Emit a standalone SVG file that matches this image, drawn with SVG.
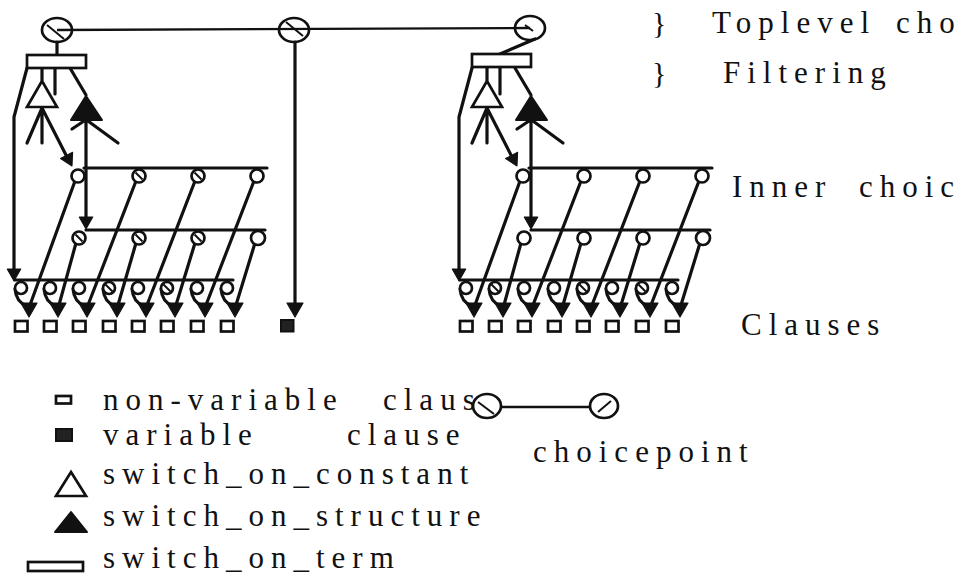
<svg xmlns="http://www.w3.org/2000/svg" xmlns:xlink="http://www.w3.org/1999/xlink" width="963" height="580" viewBox="0 0 963 580">
  <style>
    .ln { stroke: #111; stroke-width: 3.2; fill: none; stroke-linecap: round; stroke-linejoin: round; }
    .top { stroke: #111; stroke-width: 2.4; fill: none; }
    .cp { fill: #fff; stroke: #111; stroke-width: 2.7; }
    .bigcp { fill: none; stroke: #111; stroke-width: 2.7; }
    .sl { stroke: #111; stroke-width: 2; fill: none; }
    .box { fill: #fff; stroke: #111; stroke-width: 2.7; }
    .solid { fill: #111; stroke: #111; stroke-width: 2; stroke-linejoin: round; }
    .cl { fill: #fff; stroke: #111; stroke-width: 2.7; }
    .vcl { fill: #222; stroke: #111; stroke-width: 2; }
    .txt { font-family: "Liberation Serif", "Times New Roman", serif; font-size: 31px; letter-spacing: 7px; fill: #111; }
    .br { font-family: "Liberation Serif", "Times New Roman", serif; font-size: 30px; fill: #111; }
  </style>
  <defs>
    <path id="ah" d="M-8,-14 L8,-14 L0,0 Z" fill="#111" stroke="#111" stroke-width="1.2" stroke-linejoin="round"/>
    <path id="sl" d="M-3.5,-3.5 L3.5,3.5" class="sl"/>
    <path id="bigsl" d="M-9,-7 L8,7" class="sl"/>
  </defs>

  <rect width="963" height="580" fill="#fff"/>

  <!-- connectors -->
  <g id="connectors">
    <!-- toplevel choicepoint chain -->
    <path class="top" d="M57,30 L530,28"/>
    <path class="ln" d="M57,42 V55"/>
    <path class="ln" d="M535,39 L500,54"/>
    <!-- variable clause branch -->
    <path class="ln" d="M295,42 V306"/>
    <use href="#ah" x="295" y="317"/>

    <!-- left index tree -->
    <g id="links-left">
      <path class="ln" d="M55,68 V94"/>
      <path class="ln" d="M42,68 V80"/>
      <path class="ln" d="M70,68 L86,95"/>
      <path class="ln" d="M27,68 L14,117 V270"/>
      <use href="#ah" transform="translate(14,281) scale(0.85)"/>
      <path class="ln" d="M42,108 L27,143 M42,108 V143 M42,108 L67,157"/>
      <use href="#ah" transform="translate(72,166) rotate(-27) scale(0.85)"/>
      <path class="ln" d="M86,120 V219 M84,121 L72,129 M88,121 L118,143"/>
      <use href="#ah" transform="translate(86,229) scale(0.85)"/>
      <path class="ln" d="M84,168 H267 M86,230 H265 M15,280 H233"/>
      <path class="ln" d="M75,181 L30,305 M76,243 L59,305 M136,181 L88,305 M136,243 L118,305 M195,181 L147,305 M195,243 L176,305 M254,181 L206,305 M255,243 L236,305"/>
      <path class="ln" d="M15,289 Q16,302 27,306 M44,289 Q45,302 56,306 M73,289 Q74,302 85,306 M103,289 Q104,302 115,306 M132,289 Q133,302 144,306 M161,289 Q162,302 173,306 M191,289 Q192,302 203,306 M221,289 Q222,302 233,306"/>
      <use href="#ah" x="29" y="317"/><use href="#ah" x="58" y="317"/><use href="#ah" x="87" y="317"/><use href="#ah" x="117" y="317"/>
      <use href="#ah" x="146" y="317"/><use href="#ah" x="175" y="317"/><use href="#ah" x="205" y="317"/><use href="#ah" x="235" y="317"/>
    </g>

    <!-- right index tree -->
    <g id="links-right" transform="translate(445,0)">
      <path class="ln" d="M55,68 V94"/>
      <path class="ln" d="M42,68 V80"/>
      <path class="ln" d="M70,68 L86,95"/>
      <path class="ln" d="M27,68 L14,117 V270"/>
      <use href="#ah" transform="translate(14,281) scale(0.85)"/>
      <path class="ln" d="M42,108 L27,143 M42,108 V143 M42,108 L67,157"/>
      <use href="#ah" transform="translate(72,166) rotate(-27) scale(0.85)"/>
      <path class="ln" d="M86,120 V219 M84,121 L72,129 M88,121 L118,143"/>
      <use href="#ah" transform="translate(86,229) scale(0.85)"/>
      <path class="ln" d="M84,168 H267 M86,230 H265 M15,280 H233"/>
      <path class="ln" d="M75,181 L30,305 M76,243 L59,305 M136,181 L88,305 M136,243 L118,305 M195,181 L147,305 M195,243 L176,305 M254,181 L206,305 M255,243 L236,305"/>
      <path class="ln" d="M15,289 Q16,302 27,306 M44,289 Q45,302 56,306 M73,289 Q74,302 85,306 M103,289 Q104,302 115,306 M132,289 Q133,302 144,306 M161,289 Q162,302 173,306 M191,289 Q192,302 203,306 M221,289 Q222,302 233,306"/>
      <use href="#ah" x="29" y="317"/><use href="#ah" x="58" y="317"/><use href="#ah" x="87" y="317"/><use href="#ah" x="117" y="317"/>
      <use href="#ah" x="146" y="317"/><use href="#ah" x="175" y="317"/><use href="#ah" x="205" y="317"/><use href="#ah" x="235" y="317"/>
    </g>
  </g>

  <!-- toplevel choicepoints -->
  <g id="top-cp-1"><ellipse cx="57" cy="30" rx="15" ry="12" class="bigcp"/><use href="#bigsl" x="56" y="32"/></g>
  <g id="top-cp-2"><ellipse cx="294" cy="30" rx="15" ry="12" class="bigcp"/><use href="#bigsl" x="295" y="29"/></g>
  <g id="top-cp-3"><ellipse cx="530" cy="28" rx="15" ry="12" class="bigcp"/><path class="sl" d="M525,25 L533,31"/></g>

  <!-- variable clause -->
  <g id="var-clause"><rect x="281" y="320" width="12.5" height="11.5" class="vcl"/></g>

  <!-- left index tree nodes -->
  <g id="tree-left">
    <g id="term-switch-L"><rect x="27" y="55" width="59" height="13" class="box"/></g>
    <g id="const-switch-L"><polygon points="42,81 57,107 27,107" class="box"/></g>
    <g id="struct-switch-L"><polygon points="86,96 102,120 71,120" class="solid"/></g>
    <g id="inner-row1-L">
      <circle cx="78" cy="176" r="6.5" class="cp"/>
      <circle cx="139" cy="176" r="6.5" class="cp"/><use href="#sl" x="139" y="176"/>
      <circle cx="198" cy="176" r="6.5" class="cp"/><use href="#sl" x="198" y="176"/>
      <circle cx="257" cy="176" r="6.5" class="cp"/>
    </g>
    <g id="inner-row2-L">
      <circle cx="79" cy="238" r="6.5" class="cp"/><use href="#sl" x="79" y="238"/>
      <circle cx="139" cy="238" r="6.5" class="cp"/><use href="#sl" x="139" y="238"/>
      <circle cx="198" cy="238" r="6.5" class="cp"/><use href="#sl" x="198" y="238"/>
      <circle cx="258" cy="238" r="7" class="cp"/>
    </g>
    <g id="clause-cps-L">
      <circle cx="21" cy="288" r="6" class="cp"/>
      <circle cx="50" cy="288" r="6" class="cp"/>
      <circle cx="79" cy="288" r="6" class="cp"/>
      <circle cx="109" cy="288" r="6" class="cp"/><use href="#sl" x="109" y="288"/>
      <circle cx="138" cy="288" r="6" class="cp"/>
      <circle cx="167" cy="288" r="6" class="cp"/><use href="#sl" x="167" y="288"/>
      <circle cx="197" cy="288" r="6" class="cp"/>
      <circle cx="227" cy="288" r="6" class="cp"/>
    </g>
    <g id="clauses-L">
      <rect x="15" y="321" width="12.5" height="10.5" class="cl"/>
      <rect x="44" y="321" width="12.5" height="10.5" class="cl"/>
      <rect x="73" y="321" width="12.5" height="10.5" class="cl"/>
      <rect x="103" y="321" width="12.5" height="10.5" class="cl"/>
      <rect x="132" y="321" width="12.5" height="10.5" class="cl"/>
      <rect x="161" y="321" width="12.5" height="10.5" class="cl"/>
      <rect x="191" y="321" width="12.5" height="10.5" class="cl"/>
      <rect x="221" y="321" width="12.5" height="10.5" class="cl"/>
    </g>
  </g>

  <!-- right index tree nodes -->
  <g id="tree-right" transform="translate(445,0)">
    <g id="term-switch-R"><rect x="27" y="54" width="59" height="13" class="box"/></g>
    <g id="const-switch-R"><polygon points="42,81 57,107 27,107" class="box"/></g>
    <g id="struct-switch-R"><polygon points="86,96 102,120 71,120" class="solid"/></g>
    <g id="inner-row1-R">
      <circle cx="78" cy="176" r="6.5" class="cp"/>
      <circle cx="139" cy="176" r="6.5" class="cp"/>
      <circle cx="198" cy="176" r="6.5" class="cp"/>
      <circle cx="257" cy="176" r="6.5" class="cp"/>
    </g>
    <g id="inner-row2-R">
      <circle cx="79" cy="238" r="6.5" class="cp"/>
      <circle cx="139" cy="238" r="6.5" class="cp"/>
      <circle cx="198" cy="238" r="6.5" class="cp"/>
      <circle cx="258" cy="238" r="7" class="cp"/>
    </g>
    <g id="clause-cps-R">
      <circle cx="21" cy="288" r="6" class="cp"/>
      <circle cx="50" cy="288" r="6" class="cp"/><use href="#sl" x="50" y="288"/>
      <circle cx="79" cy="288" r="6" class="cp"/>
      <circle cx="109" cy="288" r="6" class="cp"/>
      <circle cx="138" cy="288" r="6" class="cp"/><use href="#sl" x="138" y="288"/>
      <circle cx="167" cy="288" r="6" class="cp"/>
      <circle cx="197" cy="288" r="6" class="cp"/><use href="#sl" x="197" y="288"/>
      <circle cx="227" cy="288" r="6" class="cp"/>
    </g>
    <g id="clauses-R">
      <rect x="15" y="321" width="12.5" height="10.5" class="cl"/>
      <rect x="44" y="321" width="12.5" height="10.5" class="cl"/>
      <rect x="73" y="321" width="12.5" height="10.5" class="cl"/>
      <rect x="103" y="321" width="12.5" height="10.5" class="cl"/>
      <rect x="132" y="321" width="12.5" height="10.5" class="cl"/>
      <rect x="161" y="321" width="12.5" height="10.5" class="cl"/>
      <rect x="191" y="321" width="12.5" height="10.5" class="cl"/>
      <rect x="221" y="321" width="12.5" height="10.5" class="cl"/>
    </g>
  </g>

  <!-- level labels -->
  <g id="level-labels">
    <text class="br" x="652" y="33">}</text>
    <text class="br" x="652" y="83">}</text>
    <text class="txt" x="712" y="33">Toplevel</text>
    <text class="txt" x="896" y="33">cho</text>
    <text class="txt" x="723" y="83">Filtering</text>
    <text class="txt" x="732" y="197">Inner</text>
    <text class="txt" x="859" y="197">choic</text>
    <text class="txt" x="741" y="335">Clauses</text>
  </g>

  <!-- legend -->
  <g id="legend">
    <rect x="56" y="396" width="15" height="7.5" class="cl" stroke-width="2.2"/>
    <text class="txt" x="103" y="410">non-variable</text>
    <text class="txt" x="383" y="410">claus</text>
    <rect x="56" y="429" width="16" height="12" class="vcl"/>
    <text class="txt" x="103" y="445">variable</text>
    <text class="txt" x="347" y="445">clause</text>
    <g id="legend-cp">
      <path class="top" d="M501,407 H590"/>
      <ellipse cx="487" cy="406" rx="14" ry="12" class="bigcp"/>
      <path class="sl" d="M478,402 L494,414"/>
      <ellipse cx="604" cy="406" rx="14" ry="12" class="bigcp"/>
      <path class="sl" d="M598,412 L611,401"/>
    </g>
    <text class="txt" x="533" y="462">choicepoint</text>
    <polygon points="71,472 86,496 56,496" class="box" stroke-width="2.6"/>
    <text class="txt" x="103" y="484">switch_on_constant</text>
    <polygon points="71,512 87,532 55,532" class="solid"/>
    <text class="txt" x="103" y="526">switch_on_structure</text>
    <rect x="28" y="562" width="55" height="9" class="box" stroke-width="2.4"/>
    <text class="txt" x="103" y="568">switch_on_term</text>
  </g>
</svg>
